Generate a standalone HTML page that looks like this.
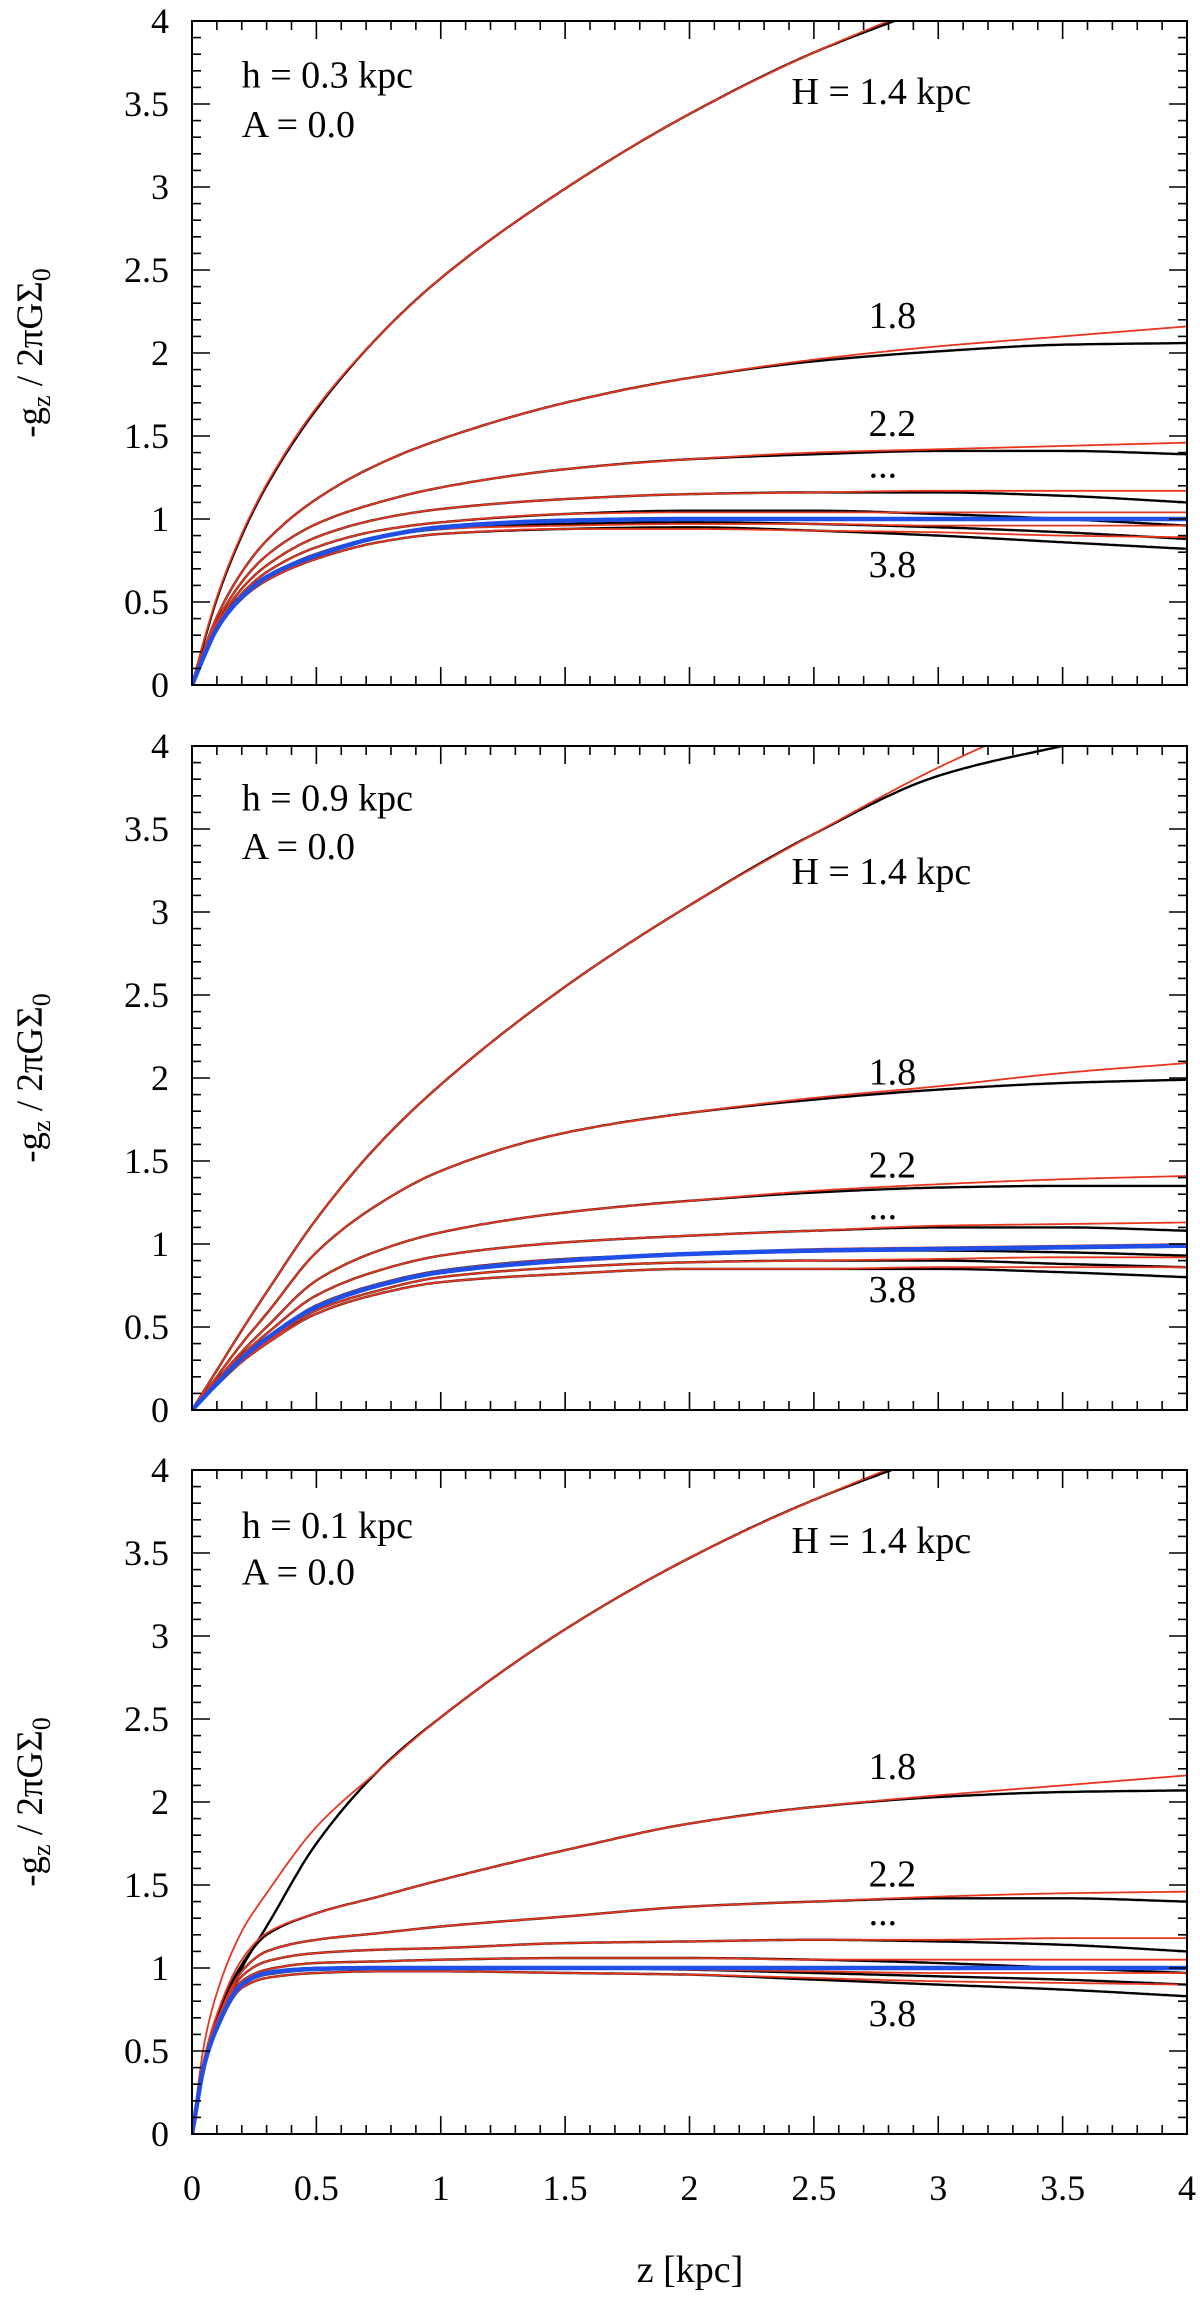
<!DOCTYPE html>
<html><head><meta charset="utf-8"><style>
html,body{margin:0;padding:0;background:#fff;}
svg{display:block;}
text{font-family:"Liberation Serif","Times New Roman",Times,serif;}
</style></head><body>
<svg id="fig" width="1200" height="2297" viewBox="0 0 1200 2297" xmlns="http://www.w3.org/2000/svg"></svg>
<script>
const zGrid=[0,0.05,0.1,0.2,0.3,0.5,0.75,1,1.5,2,2.5,3,3.5,4];
const hLabels=["h = 0.3 kpc","h = 0.9 kpc","h = 0.1 kpc"];
const xTicks=[0,0.5,1,1.5,2,2.5,3,3.5,4];
const xTickLabels=["0","0.5","1","1.5","2","2.5","3","3.5","4"];
const yTicks=[0,0.5,1,1.5,2,2.5,3,3.5,4];
const yTickLabels=["0","0.5","1","1.5","2","2.5","3","3.5","4"];
const curveNames=["1.4","1.8","2.2","2.6","3.0","3.4","3.8"];
// panel 1 (h=0.3)
const p1Black=[
[0,0.27,0.52,0.90,1.20,1.66,2.10,2.45,2.99,3.44,3.81,4.10,4.40,4.60],
[0,0.22,0.41,0.68,0.87,1.12,1.33,1.48,1.70,1.85,1.95,2.01,2.05,2.06],
[0,0.20,0.38,0.62,0.78,0.97,1.10,1.19,1.30,1.36,1.39,1.41,1.41,1.39],
[0,0.19,0.36,0.58,0.72,0.89,1.00,1.06,1.12,1.15,1.16,1.16,1.14,1.10],
[0,0.185,0.35,0.55,0.68,0.83,0.93,0.98,1.03,1.05,1.05,1.03,1.00,0.96],
[0,0.18,0.34,0.53,0.65,0.79,0.89,0.94,0.97,0.98,0.97,0.95,0.92,0.88],
[0,0.175,0.33,0.52,0.63,0.76,0.86,0.91,0.94,0.95,0.93,0.90,0.86,0.82]];
const p1Red=[
[0,0.28,0.53,0.91,1.21,1.67,2.10,2.45,2.99,3.44,3.81,4.12,4.42,4.65],
[0,0.22,0.41,0.68,0.87,1.12,1.33,1.48,1.70,1.85,1.96,2.04,2.10,2.16],
[0,0.20,0.38,0.62,0.78,0.97,1.10,1.19,1.30,1.36,1.40,1.42,1.44,1.46],
[0,0.19,0.36,0.58,0.72,0.89,1.00,1.06,1.12,1.15,1.16,1.17,1.17,1.17],
[0,0.185,0.35,0.55,0.68,0.83,0.93,0.98,1.03,1.04,1.04,1.04,1.04,1.04],
[0,0.18,0.34,0.53,0.65,0.79,0.89,0.94,0.96,0.97,0.97,0.96,0.96,0.96],
[0,0.175,0.33,0.52,0.63,0.76,0.86,0.91,0.94,0.94,0.93,0.92,0.90,0.89]];
const p1Blue=[0,0.18,0.34,0.53,0.65,0.78,0.89,0.95,0.99,1.0,1.0,1.0,1.0,1.0];
// panel 2 (h=0.9)
const p2Black=[
[0,0.12,0.24,0.48,0.71,1.15,1.60,1.96,2.55,3.04,3.47,3.82,4.00,4.15],
[0,0.10,0.20,0.40,0.58,0.95,1.24,1.44,1.67,1.79,1.87,1.93,1.97,1.99],
[0,0.09,0.18,0.35,0.50,0.78,0.96,1.07,1.19,1.26,1.31,1.34,1.35,1.35],
[0,0.085,0.17,0.33,0.46,0.69,0.84,0.93,1.01,1.05,1.08,1.10,1.10,1.08],
[0,0.08,0.16,0.31,0.43,0.63,0.76,0.84,0.91,0.94,0.96,0.96,0.95,0.93],
[0,0.077,0.155,0.30,0.41,0.60,0.72,0.80,0.86,0.89,0.90,0.90,0.88,0.86],
[0,0.075,0.15,0.29,0.40,0.58,0.70,0.77,0.82,0.85,0.85,0.85,0.83,0.80]];
const p2Red=[
[0,0.12,0.24,0.48,0.71,1.15,1.60,1.96,2.55,3.04,3.47,3.87,4.20,4.50],
[0,0.10,0.20,0.40,0.58,0.95,1.24,1.44,1.67,1.79,1.88,1.95,2.03,2.09],
[0,0.09,0.18,0.35,0.50,0.78,0.96,1.07,1.19,1.26,1.32,1.36,1.39,1.41],
[0,0.085,0.17,0.33,0.46,0.69,0.84,0.93,1.01,1.05,1.08,1.11,1.12,1.13],
[0,0.08,0.16,0.31,0.43,0.63,0.76,0.84,0.91,0.94,0.97,0.98,0.99,1.00],
[0,0.077,0.155,0.30,0.41,0.60,0.72,0.80,0.86,0.89,0.90,0.91,0.92,0.92],
[0,0.075,0.15,0.29,0.40,0.58,0.70,0.77,0.82,0.85,0.85,0.86,0.86,0.86]];
const p2Blue=[0,0.08,0.16,0.31,0.43,0.62,0.75,0.83,0.90,0.94,0.96,0.97,0.98,0.99];
// panel 3 (h=0.1)
const p3Black=[
[0,0.40,0.68,1.00,1.25,1.75,2.19,2.51,3.04,3.47,3.82,4.10,4.35,4.55],
[0,0.45,0.70,1.02,1.20,1.33,1.43,1.53,1.71,1.87,1.97,2.03,2.06,2.07],
[0,0.44,0.68,0.98,1.10,1.17,1.21,1.25,1.31,1.37,1.40,1.42,1.42,1.40],
[0,0.43,0.66,0.95,1.04,1.09,1.11,1.12,1.15,1.16,1.17,1.16,1.14,1.10],
[0,0.42,0.65,0.92,0.99,1.03,1.04,1.05,1.06,1.06,1.05,1.03,1.00,0.97],
[0,0.42,0.64,0.90,0.96,0.99,1.00,1.00,1.00,0.99,0.97,0.95,0.93,0.90],
[0,0.41,0.63,0.88,0.94,0.97,0.98,0.98,0.97,0.96,0.93,0.90,0.87,0.83]];
const p3Red=[
[0,0.55,0.85,1.22,1.45,1.85,2.19,2.51,3.04,3.47,3.82,4.12,4.38,4.60],
[0,0.46,0.72,1.05,1.21,1.33,1.43,1.53,1.71,1.87,1.97,2.04,2.10,2.16],
[0,0.44,0.68,0.98,1.10,1.17,1.21,1.25,1.31,1.37,1.40,1.43,1.45,1.46],
[0,0.43,0.66,0.95,1.04,1.09,1.11,1.12,1.15,1.16,1.17,1.17,1.18,1.18],
[0,0.42,0.65,0.92,0.99,1.03,1.04,1.05,1.06,1.06,1.05,1.05,1.05,1.05],
[0,0.42,0.64,0.90,0.96,0.99,1.00,1.00,1.00,0.99,0.98,0.97,0.97,0.97],
[0,0.41,0.63,0.88,0.94,0.97,0.98,0.98,0.97,0.96,0.94,0.92,0.91,0.90]];
const p3Blue=[0,0.42,0.64,0.90,0.97,0.995,1.0,1.0,1.0,1.0,1.0,1.0,1.0,1.0];

const panelsBlack=[p1Black,p2Black,p3Black];
const panelsRed=[p1Red,p2Red,p3Red];
const panelsBlue=[p1Blue,p2Blue,p3Blue];
const labelY=[[3.60,3.30,3.50,2.15,1.50,1.25,0.65],[3.61,3.32,3.17,1.96,1.40,1.15,0.65],[3.59,3.31,3.50,2.14,1.49,1.26,0.65]];

const NS="http://www.w3.org/2000/svg";
const svg=document.getElementById('fig');
const L=192,R=1187,PH=664,tops=[21,746,1470];
const FONT='"Liberation Serif","Times New Roman",Times,serif';
function mk(tag,attrs,parent){const e=document.createElementNS(NS,tag);for(const k in attrs)e.setAttribute(k,attrs[k]);(parent||svg).appendChild(e);return e;}
function interp(xs,ys){
  const n=xs.length,d=[],m=new Array(n);
  for(let i=0;i<n-1;i++)d.push((ys[i+1]-ys[i])/(xs[i+1]-xs[i]));
  m[0]=d[0];m[n-1]=d[n-2];
  for(let i=1;i<n-1;i++){
    if(d[i-1]*d[i]<=0)m[i]=0;
    else{const w1=2*(xs[i+1]-xs[i])+(xs[i]-xs[i-1]),w2=(xs[i+1]-xs[i])+2*(xs[i]-xs[i-1]);m[i]=(w1+w2)/(w1/d[i-1]+w2/d[i]);}
  }
  return function(x){
    let i=0;while(i<n-2&&x>xs[i+1])i++;
    const h=xs[i+1]-xs[i],t=(x-xs[i])/h,t2=t*t,t3=t2*t;
    return (2*t3-3*t2+1)*ys[i]+(t3-2*t2+t)*h*m[i]+(-2*t3+3*t2)*ys[i+1]+(t3-t2)*h*m[i+1];
  };
}
function path(xs,ys,sx,sy){
  const f=interp(xs,ys);let d="";
  const N=400;
  for(let k=0;k<=N;k++){const x=4*k/N;d+=(k?"L":"M")+sx(x).toFixed(1)+","+sy(f(x)).toFixed(1);}
  return d;
}
function txt(parent,x,y,size,anchor,content){
  const t=mk('text',{x:x,y:y,'text-anchor':anchor,'font-size':size,'font-family':FONT},parent);
  t.textContent=content;return t;
}
const defs=mk('defs',{});
tops.forEach((T,pi)=>{
  const B=T+PH;
  const sx=z=>L+(R-L)*z/4;
  const sy=v=>B-PH*v/4;
  const g=mk('g',{});
  
  
  const cp=mk('clipPath',{id:'clip'+pi},defs);
  mk('rect',{x:L,y:T,width:R-L,height:PH},cp);
  const cg=mk('g',{'clip-path':'url(#clip'+pi+')'},g);
  panelsBlack[pi].forEach((ys,ci)=>{
    const p=mk('path',{d:path(zGrid,ys,sx,sy),fill:'none',stroke:'#000','stroke-width':2.4},cg);
    
    
  });
  panelsRed[pi].forEach((ys,ci)=>{
    const p=mk('path',{d:path(zGrid,ys,sx,sy),fill:'none',stroke:'#e8361e','stroke-width':1.8},cg);
    
    
  });
  const bl=mk('path',{d:path(zGrid,panelsBlue[pi],sx,sy),fill:'none',stroke:'#1f4fe6','stroke-width':4.5},cg);
  
  
  const fr=mk('rect',{x:L,y:T,width:R-L,height:PH,fill:'none',stroke:'#000','stroke-width':2},g);
  
  
  for(let i=0;i<=40;i++){
    const v=i/10, major=i%5===0, len=major?18:9;
    const x=sx(v);
    mk('line',{x1:x,y1:B,x2:x,y2:B-len,stroke:'#000','stroke-width':1.6},g);
    mk('line',{x1:x,y1:T,x2:x,y2:T+len,stroke:'#000','stroke-width':1.6},g);
    const y=sy(v);
    mk('line',{x1:L,y1:y,x2:L+len,y2:y,stroke:'#000','stroke-width':1.6},g);
    mk('line',{x1:R,y1:y,x2:R-len,y2:y,stroke:'#000','stroke-width':1.6},g);
  }
  yTicks.forEach((v,i)=>{
    const t=txt(g,169,sy(v)+12,36,'end',yTickLabels[i]);
    
    
  });
  if(pi===2){
    xTicks.forEach((v,i)=>{
      const t=txt(g,sx(v),2200,36,'middle',xTickLabels[i]);
      
      
    });
  }
  const yc=T+PH/2;
  const yt=mk('text',{x:0,y:0,'text-anchor':'middle','font-size':37,'font-family':FONT,transform:'translate(42,'+yc+') rotate(-90)'},g);
  yt.innerHTML='-g<tspan font-size="26" dy="8">z</tspan><tspan dy="-8"> / 2πGΣ</tspan><tspan font-size="26" dy="8">0</tspan>';
  
  
  const ly=labelY[pi];
  const texts=[[hLabels[pi],sx(0.2),ly[0],'parameter-h-label'],["A = 0.0",sx(0.2),ly[1],'parameter-a-label'],["H = 1.4 kpc",sx(2.41),ly[2],'curve-label-1.4'],["1.8",sx(2.72),ly[3],'curve-label-1.8'],["2.2",sx(2.72),ly[4],'curve-label-2.2'],["...",sx(2.72),ly[5],'curve-label-dots'],["3.8",sx(2.72),ly[6],'curve-label-3.8']];
  texts.forEach(tt=>{
    const t=txt(g,tt[1],sy(tt[2]),38,'start',tt[0]);
    
    
  });
});
const xt=txt(svg,690,2282,38,'middle','z [kpc]');


</script>
</body></html>
